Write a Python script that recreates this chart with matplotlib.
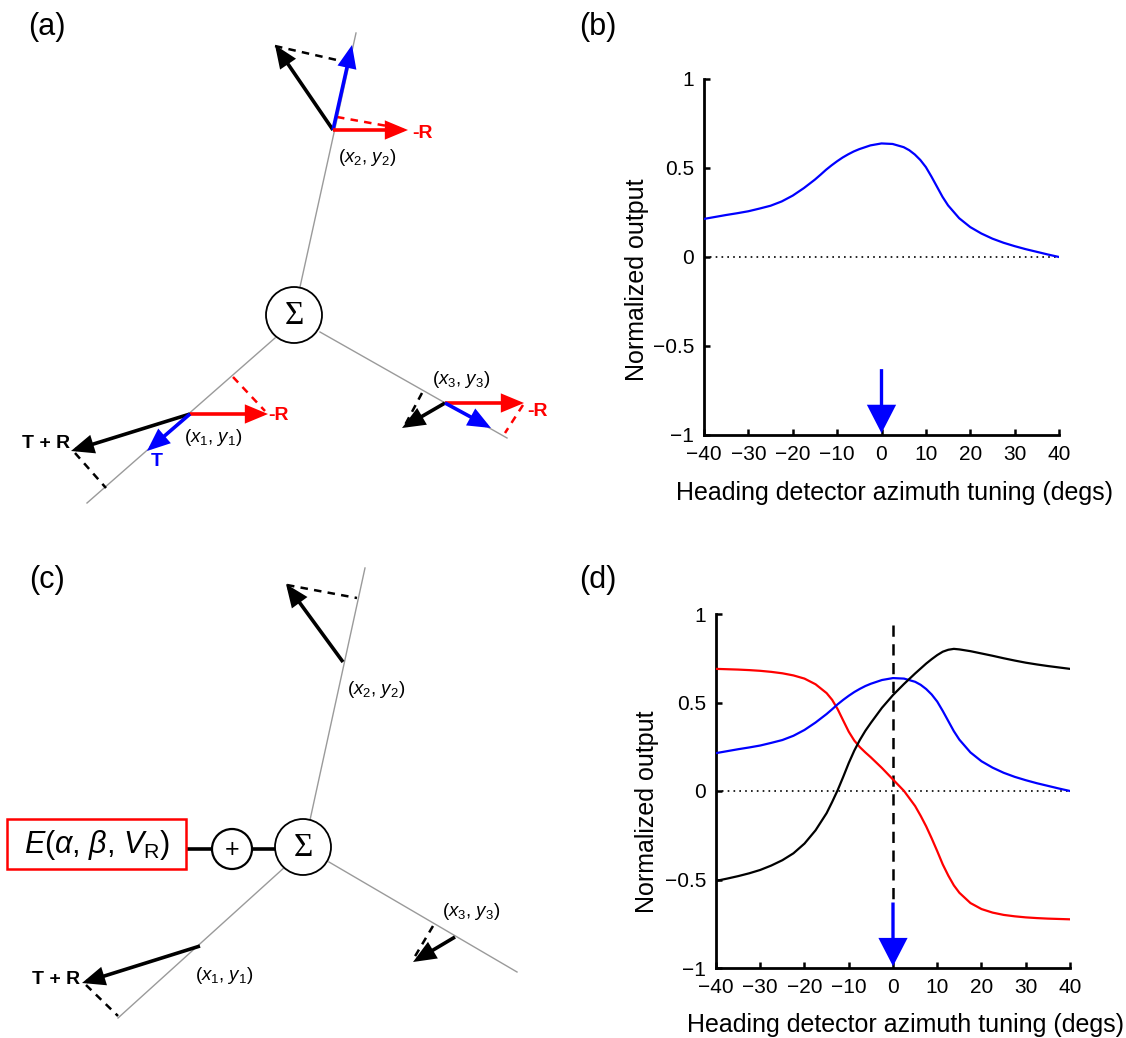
import numpy as np
import matplotlib
matplotlib.use("Agg")
import matplotlib.pyplot as plt
from matplotlib.patches import FancyArrowPatch, Circle, Rectangle, ArrowStyle

plt.rcParams['font.family'] = ['Liberation Sans', 'DejaVu Sans']
plt.rcParams['mathtext.fontset'] = 'custom'
plt.rcParams['mathtext.rm'] = 'Liberation Sans'
plt.rcParams['mathtext.it'] = 'Liberation Sans:italic'
plt.rcParams['mathtext.bf'] = 'Liberation Sans:bold'

# ---------------- data ----------------
tuning = [-40, -37.5, -35, -32.5, -30, -27.5, -25, -22.5, -20, -17.5, -15, -13.75,
          -12.5, -11.25, -10, -8.75, -7.5, -6.25, -5, -2.5, 0, 2.5, 5, 6.25, 7.5,
          8.75, 10, 11.25, 12.5, 13.75, 15, 17.5, 20, 22.5,
          25, 27.5, 30, 32.5, 35, 37.5, 40]
blue_out = [0.214, 0.225, 0.236, 0.246, 0.257, 0.272, 0.288, 0.312, 0.345, 0.387,
            0.435, 0.462, 0.49, 0.515, 0.538, 0.559, 0.577, 0.593, 0.606, 0.627,
            0.638, 0.635, 0.617, 0.600, 0.576, 0.545, 0.505, 0.452, 0.395, 0.338,
            0.29, 0.218, 0.168, 0.132, 0.103, 0.080, 0.061, 0.044, 0.029, 0.014,
            0.0]
red_out = [0.69, 0.688, 0.686, 0.683, 0.679, 0.673, 0.665, 0.653, 0.635, 0.603,
           0.553, 0.515, 0.462, 0.398, 0.335, 0.285, 0.248, 0.218, 0.19, 0.13,
           0.065, 0.0, -0.085, -0.14, -0.2, -0.268, -0.34, -0.415, -0.478,
           -0.533, -0.575, -0.633, -0.667, -0.687, -0.700, -0.708, -0.714,
           -0.718, -0.721, -0.723, -0.725]
black_out = [-0.508, -0.495, -0.481, -0.465, -0.446, -0.421, -0.391, -0.352,
             -0.297, -0.222, -0.125, -0.062, 0.005, 0.08, 0.158, 0.228, 0.288,
             0.34, 0.385, 0.47, 0.542, 0.605, 0.664, 0.692, 0.72, 0.745, 0.768,
             0.787, 0.798, 0.803, 0.80, 0.79, 0.777, 0.764, 0.75, 0.737, 0.725,
             0.715, 0.706, 0.698, 0.69]
xticks = [-40, -30, -20, -10, 0, 10, 20, 30, 40]
yticks = [-1, -0.5, 0, 0.5, 1]
yticklabels = ['\u22121', '\u22120.5', '0', '0.5', '1']
heading = 0.0
xlabel_txt = 'Heading detector azimuth tuning (degs)'
ylabel_txt = 'Normalized output'

W, H = 1126, 1038
fig = plt.figure(figsize=(W / 100, H / 100), dpi=100)

BLUE = '#0000ff'
RED = '#ff0000'


def make_plot(px_left, px_right, px_top, px_bottom, curves, dashed_heading):
    ax = fig.add_axes([px_left / W, 1 - px_bottom / H,
                       (px_right - px_left) / W, (px_bottom - px_top) / H])
    for ys, c in curves:
        ax.plot(tuning, ys, color=c, lw=1.6, zorder=3)
    ax.plot([tuning[0], tuning[-1]], [0, 0], color='black', lw=1.2,
            ls=(0, (1, 2.5)), zorder=2)
    if dashed_heading:
        ax.plot([heading, heading], [0.94, -0.62], color='black', lw=1.8,
                ls=(0, (4.5, 3)), zorder=2)
    ax.arrow(heading, -0.63, 0, -0.36, width=0.75, head_width=6.6,
             head_length=0.16, length_includes_head=True, color=BLUE,
             lw=0, zorder=4)
    ax.set_xlim(-40, 40)
    ax.set_ylim(-1, 1)
    ax.set_xticks(xticks)
    ax.set_xticklabels([str(t).replace('-', '\u2212') for t in xticks])
    ax.set_yticks(yticks)
    ax.set_yticklabels(yticklabels)
    for s in ['top', 'right']:
        ax.spines[s].set_visible(False)
    for s in ['left', 'bottom']:
        ax.spines[s].set_linewidth(2.0)
    ax.tick_params(direction='in', length=4, width=1.8, labelsize=15, pad=7)
    ax.set_xlabel(xlabel_txt, fontsize=18, va='center')
    ax.set_ylabel(ylabel_txt, fontsize=18, va='center')
    ax.patch.set_alpha(0)
    return ax


axb = make_plot(704, 1059, 79, 435, [(blue_out, BLUE)], False)
axb.xaxis.set_label_coords(0.538, -0.163)
axb.yaxis.set_label_coords(-0.189, 0.435)

axd = make_plot(716, 1070, 614, 968,
                [(red_out, RED), (blue_out, BLUE), (black_out, 'black')], True)
axd.xaxis.set_label_coords(0.535, -0.16)
axd.yaxis.set_label_coords(-0.195, 0.44)

# ---------------- diagram overlay (pixel coordinates) ----------------
ov = fig.add_axes([0, 0, 1, 1])
ov.set_xlim(0, W)
ov.set_ylim(H, 0)
ov.axis('off')
ov.patch.set_alpha(0)

astyle = ArrowStyle('-|>', head_length=1.2, head_width=0.5)


def arrow(p0, p1, color='black', lw=2.6):
    ov.add_patch(FancyArrowPatch(p0, p1, arrowstyle=astyle, mutation_scale=10,
                                 color=color, lw=lw, shrinkA=0, shrinkB=0,
                                 joinstyle='miter', capstyle='butt', zorder=5))


def dash(p0, p1, color='black', lw=1.8):
    ov.plot([p0[0], p1[0]], [p0[1], p1[1]], color=color, lw=lw,
            ls=(0, (3, 2.5)), zorder=4)


def gray(p0, p1):
    ov.plot([p0[0], p1[0]], [p0[1], p1[1]], color='#9a9a9a', lw=1.0, zorder=1)


def sigma(c, r=28):
    ov.add_patch(Circle(c, r, facecolor='white', edgecolor='black', lw=1.3,
                        zorder=3))
    ov.text(c[0], c[1] + 1, '\u03a3', fontsize=24, ha='center', va='center',
            family=['Liberation Serif', 'DejaVu Serif'], zorder=4)


def coord_label(x, y, i):
    ov.text(x, y, r'($x_{%d}$, $y_{%d}$)' % (i, i), fontsize=13.5, ha='left',
            va='center')


def bold_label(x, y, s, color='black', ha='left'):
    ov.text(x, y, s, fontsize=14, fontweight='bold', color=color, ha=ha,
            va='center')


# panel labels
for s, (x, y) in zip(['(a)', '(b)', '(c)', '(d)'],
                     [(47, 27), (598, 27), (47, 580), (598, 580)]):
    fig.text(x / W, 1 - y / H, s, fontsize=22, ha='center', va='center')

# ---- panel (a) ----
gray((300, 287), (356, 33))
gray((275, 338), (87, 503))
gray((320, 332), (507, 438))
sigma((294, 315))

# node 2
dash((275, 46), (350, 63))
dash((337, 117), (404, 129), RED)
arrow((333, 130), (275, 45))
arrow((333, 130), (352, 45), BLUE)
arrow((333, 130), (408, 130), RED)
bold_label(412, 133, '-R', RED)
coord_label(338, 157, 2)

# node 1
dash((233, 377), (265, 411), RED)
dash((75, 453), (106, 488))
arrow((190, 414), (268, 414), RED)
arrow((190, 414), (71, 451))
arrow((190, 414), (147, 451), BLUE)
bold_label(268, 416, '-R', RED)
bold_label(70, 443, 'T + R', ha='right')
bold_label(157, 461, 'T', BLUE, ha='center')
coord_label(184, 438, 1)

# node 3
dash((422, 393), (405, 425))
dash((523, 405), (505, 433), RED)
arrow((445, 403), (524, 403), RED)
arrow((445, 403), (402, 428))
arrow((445, 403), (491, 428), BLUE)
bold_label(527, 412, '-R', RED)
coord_label(432, 380, 3)

# ---- panel (c) ----
gray((310, 820), (365, 568))
gray((286, 866), (118, 1018))
gray((329, 862), (517, 972))
sigma((303, 847))
ov.add_patch(Circle((232, 849), 20, facecolor='white', edgecolor='black',
                    lw=1.6, zorder=3))
ov.text(232, 850, '+', fontsize=18, ha='center', va='center', zorder=4)
ov.plot([186, 212], [849, 849], color='black', lw=2.6, zorder=2)
ov.plot([252, 276], [849, 849], color='black', lw=2.6, zorder=2)
ov.add_patch(Rectangle((7, 819), 179, 50, facecolor='white', edgecolor=RED,
                       lw=1.8, zorder=3))
ov.text(97, 845, r'$E$($\alpha$, $\beta$, $V_{\mathrm{R}}$)', fontsize=22,
        ha='center', va='center', zorder=4)

dash((287, 585), (357, 598))
arrow((343, 662), (286, 584))
coord_label(347, 690, 2)

dash((86, 985), (118, 1016))
arrow((200, 946), (82, 983))
bold_label(80, 980, 'T + R', ha='right')
coord_label(195, 975, 1)

dash((433, 926), (414, 958))
arrow((455, 937), (413, 962))
coord_label(442, 912, 3)

fig.savefig('out.png', dpi=100)
